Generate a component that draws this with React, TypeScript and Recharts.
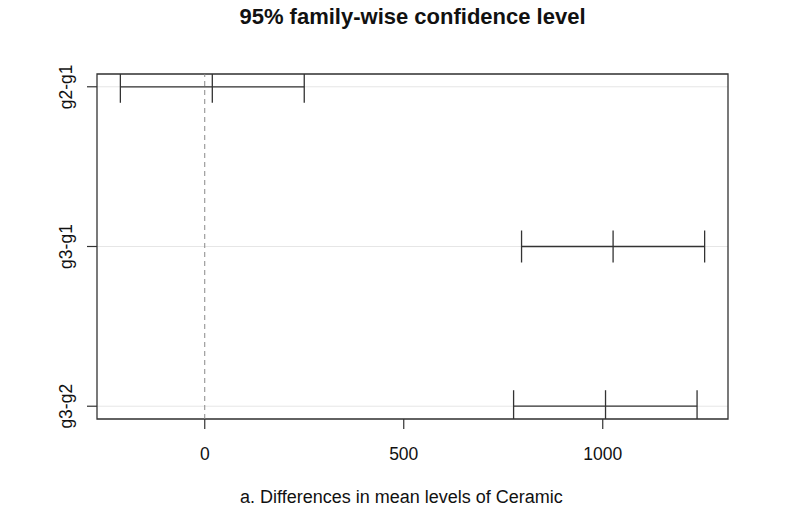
import React from 'react';
import { ScatterChart, Scatter, XAxis, YAxis, ReferenceLine, ReferenceArea, CartesianGrid } from 'recharts';

const comparisons = ['g2-g1', 'g3-g1', 'g3-g2'];
const diffs = [19, 1026, 1007];
const lowers = [-212, 796, 776];
const uppers = [250, 1256, 1237];
const xTicks = [0, 500, 1000];
const titleText = '95% family-wise confidence level';
const xLabelText = 'a. Differences in mean levels of Ceramic';

const FONT = '"Liberation Sans", Arial, Helvetica, sans-serif';
const INK = '#333';

// R-style 4% axis extension
const allX = [...lowers, ...uppers];
const xLo = Math.min(...allX);
const xHi = Math.max(...allX);
const xPad = (xHi - xLo) * 0.04;
const xDomain: [number, number] = [xLo - xPad, xHi + xPad];
const n = comparisons.length;
const yPad = (n - 1) * 0.04;
const yDomain: [number, number] = [1 - yPad, n + yPad];
const yTicks = comparisons.map((_, i) => n - i);

const rows = comparisons.map((name, i) => ({
  name,
  points: [
    { x: lowers[i], y: n - i },
    { x: diffs[i], y: n - i },
    { x: uppers[i], y: n - i },
  ],
}));

const Whisker = (props: any) => {
  const { cx, cy } = props;
  if (cx == null || cy == null) return null;
  return <line x1={cx} x2={cx} y1={cy - 16} y2={cy + 16} stroke={INK} strokeWidth={1.3} />;
};

const YTick = (props: any) => {
  const { y, payload } = props;
  const label = comparisons[n - payload.value];
  const tx = 72;
  return (
    <text
      x={tx}
      y={y}
      transform={`rotate(-90, ${tx}, ${y})`}
      textAnchor="middle"
      fontFamily={FONT}
      fontSize={17.5}
      fill="#111"
    >
      {label}
    </text>
  );
};

export default function App() {
  return (
    <div style={{ position: 'absolute', left: 0, top: 0, width: 807, height: 515, background: '#fff' }}>
      <div
        style={{
          position: 'absolute',
          left: 97,
          width: 631,
          top: 6,
          textAlign: 'center',
          fontFamily: FONT,
          fontWeight: 'bold',
          fontSize: 22,
          lineHeight: '22px',
          color: '#111',
          whiteSpace: 'nowrap',
        }}
      >
        {titleText}
      </div>
      <ScatterChart width={807} height={515} margin={{ top: 74, right: 79, bottom: 0, left: 0 }}>
        <CartesianGrid vertical={false} stroke="#e6e6e6" strokeWidth={1} />
        <XAxis
          type="number"
          dataKey="x"
          domain={xDomain}
          ticks={xTicks}
          allowDataOverflow
          height={96}
          axisLine={false}
          tickSize={10}
          tickMargin={19}
          tickLine={{ stroke: INK, strokeWidth: 1.2 }}
          tick={{ fontFamily: FONT, fontSize: 17.5, fill: '#111' }}
        />
        <YAxis
          type="number"
          dataKey="y"
          domain={yDomain}
          ticks={yTicks}
          allowDataOverflow
          width={97}
          axisLine={false}
          tickSize={10}
          tickLine={{ stroke: INK, strokeWidth: 1.2 }}
          tick={<YTick />}
        />
        <ReferenceLine x={0} stroke="#888" strokeDasharray="5 4" strokeWidth={1} />
        {rows.map((r) => (
          <Scatter
            key={r.name}
            name={r.name}
            data={r.points}
            line={{ stroke: INK, strokeWidth: 1.3 }}
            lineType="joint"
            shape={<Whisker />}
            isAnimationActive={false}
          />
        ))}
        <ReferenceArea
          x1={xDomain[0]}
          x2={xDomain[1]}
          y1={yDomain[0]}
          y2={yDomain[1]}
          fill="none"
          fillOpacity={0}
          stroke={INK}
          strokeWidth={1.3}
        />
      </ScatterChart>
      <div
        style={{
          position: 'absolute',
          left: 240,
          top: 488,
          fontFamily: FONT,
          fontSize: 18,
          lineHeight: '18px',
          color: '#111',
          whiteSpace: 'nowrap',
        }}
      >
        {xLabelText}
      </div>
    </div>
  );
}
